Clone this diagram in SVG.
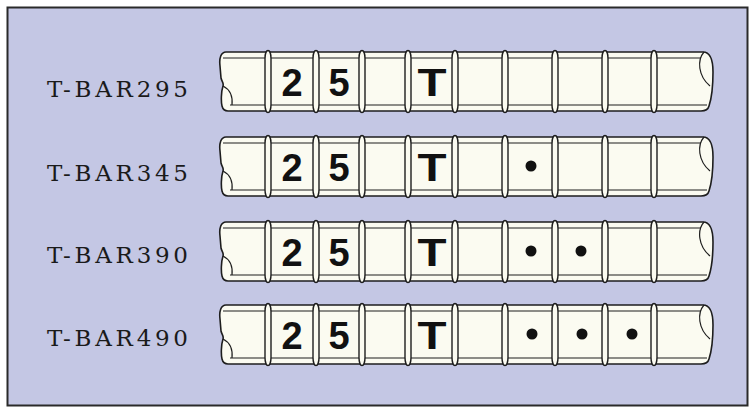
<svg xmlns="http://www.w3.org/2000/svg" xmlns:xlink="http://www.w3.org/1999/xlink" width="754" height="411" viewBox="0 0 754 411">
<style>
.frame{fill:#c4c7e4;stroke:#2a2a2a;stroke-width:2}
.bar{fill:#fbfbf1;stroke:#1e1e1e;stroke-width:1.6;stroke-linejoin:round}
.ln{fill:none;stroke:#1e1e1e;stroke-width:1.2}
.rib{fill:#fbfbf1;stroke:#1e1e1e;stroke-width:1.4}
.lbl{font-family:"DejaVu Serif","Liberation Serif",serif;font-size:23px;fill:#1a1a1a}
.ch{font-family:"Liberation Sans",Arial,sans-serif;font-weight:bold;font-size:38px;fill:#111;text-anchor:middle}
.dot{fill:#111}
</style>
<defs>
<g id="barShape">
<path class="bar" d="M226,0 L703,0 C710,0 713,8 713,20 C713,36 711,48 709,54 C708,58 705,59 701,59 L228,59 C225,59 223,58 222,54 C221,50 221,40 223,34 C224,31 222,30 221,26 L220,14 C219,6 221,0 226,0 Z"/>
<path class="ln" d="M223,34 C229,37 233,43 232,53"/>
<path class="ln" d="M704,0 C697,8 698,24 710,34"/>
<line class="ln" x1="223" y1="6" x2="701" y2="6"/>
<line class="ln" x1="230" y1="53" x2="707" y2="53"/>
<rect class="rib" x="265" y="-1.5" width="6" height="62" rx="3" ry="8"/>
<rect class="rib" x="313" y="-1.5" width="6" height="62" rx="3" ry="8"/>
<rect class="rib" x="359" y="-1.5" width="6" height="62" rx="3" ry="8"/>
<rect class="rib" x="405" y="-1.5" width="6" height="62" rx="3" ry="8"/>
<rect class="rib" x="452" y="-1.5" width="6" height="62" rx="3" ry="8"/>
<rect class="rib" x="502" y="-1.5" width="6" height="62" rx="3" ry="8"/>
<rect class="rib" x="552" y="-1.5" width="6" height="62" rx="3" ry="8"/>
<rect class="rib" x="602" y="-1.5" width="6" height="62" rx="3" ry="8"/>
<rect class="rib" x="651" y="-1.5" width="6" height="62" rx="3" ry="8"/>
<text class="ch" x="292" y="44">2</text>
<text class="ch" x="339" y="44">5</text>
<text class="ch" transform="translate(432,44) scale(1.25,1)" x="0" y="0">T</text>
</g>
</defs>
<rect width="754" height="411" fill="#ffffff"/>
<rect class="frame" x="7.5" y="7.5" width="740" height="398"/>
<g id="connectors"></g>
<g id="row-295">
<text class="lbl" x="47" y="97" textLength="141" lengthAdjust="spacing">T-BAR295</text>
<use xlink:href="#barShape" href="#barShape" transform="translate(0,52)"/>
</g>
<g id="row-345">
<text class="lbl" x="47" y="181" textLength="141" lengthAdjust="spacing">T-BAR345</text>
<use xlink:href="#barShape" href="#barShape" transform="translate(0,137)"/>
<circle class="dot" cx="531" cy="166" r="5.5"/>
</g>
<g id="row-390">
<text class="lbl" x="47" y="263" textLength="141" lengthAdjust="spacing">T-BAR390</text>
<use xlink:href="#barShape" href="#barShape" transform="translate(0,222)"/>
<circle class="dot" cx="531" cy="251" r="5.5"/>
<circle class="dot" cx="581" cy="251" r="5.5"/>
</g>
<g id="row-490">
<text class="lbl" x="47" y="346" textLength="141" lengthAdjust="spacing">T-BAR490</text>
<use xlink:href="#barShape" href="#barShape" transform="translate(0,305)"/>
<circle class="dot" cx="532" cy="334" r="5.5"/>
<circle class="dot" cx="582" cy="334" r="5.5"/>
<circle class="dot" cx="632" cy="334" r="5.5"/>
</g>
</svg>
